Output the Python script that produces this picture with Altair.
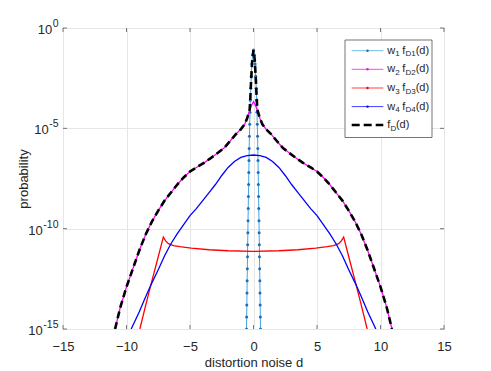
import altair as alt
import pandas as pd
import numpy as np

# ---------------- data ----------------
x_ticks = [-15, -10, -5, 0, 5, 10, 15]
y_ticks = [1e-15, 1e-10, 1e-5, 1]
y_tick_base = "10"
y_tick_exps = ["-15", "-10", "-5", "0"]

# w1 fD1(d): narrow spike (exponents of 10)
w1_d = [-0.55, -0.54, -0.525, -0.51, -0.5, -0.485, -0.47, -0.46, -0.445, -0.43,
        -0.415, -0.4, -0.385, -0.37, -0.355, -0.34, -0.32, -0.3, -0.275, -0.25,
        -0.215, -0.175, -0.13, -0.07, 0.0,
        0.07, 0.13, 0.175, 0.215, 0.25, 0.275, 0.3, 0.32, 0.34, 0.355,
        0.37, 0.385, 0.4, 0.415, 0.43, 0.445, 0.46, 0.47, 0.485, 0.5,
        0.51, 0.525, 0.54, 0.55]
w1_exp = [-15.0, -14.4, -13.8, -13.2, -12.6, -12.0, -11.4, -10.8, -10.2, -9.6,
          -9.0, -8.4, -7.8, -7.2, -6.6, -6.0, -5.4, -4.8, -4.2, -3.6,
          -3.0, -2.4, -1.8, -1.35, -1.1,
          -1.35, -1.8, -2.4, -3.0, -3.6, -4.2, -4.8, -5.4, -6.0, -6.6,
          -7.2, -7.8, -8.4, -9.0, -9.6, -10.2, -10.8, -11.4, -12.0, -12.6,
          -13.2, -13.8, -14.4, -15.0]

# w2 fD2(d)
w2_d = [-10.9, -10.5, -10.0, -9.5, -9.0, -8.5, -8.0, -7.5, -7.0, -6.5, -6.0, -5.5,
        -5.0, -4.5, -3.9, -3.4, -2.8, -2.3, -1.9, -1.4, -1.0, -0.7, -0.5, -0.3,
        -0.15, 0.0,
        0.15, 0.3, 0.5, 0.7, 1.0, 1.4, 1.9, 2.3, 2.8, 3.4, 3.9, 4.5, 5.0,
        5.5, 6.0, 6.5, 7.0, 7.5, 8.0, 8.5, 9.0, 9.5, 10.0, 10.5, 10.9]
w2_exp = [-15.0, -13.95, -12.9, -12.0, -11.1, -10.3, -9.65, -9.1, -8.6, -8.2, -7.8, -7.45,
          -7.15, -6.95, -6.72, -6.5, -6.22, -5.97, -5.68, -5.3, -5.05, -4.8, -4.5, -4.1,
          -3.85, -3.67,
          -3.85, -4.1, -4.5, -4.8, -5.05, -5.3, -5.68, -5.97, -6.22, -6.5, -6.72, -6.95, -7.15,
          -7.45, -7.8, -8.2, -8.6, -9.1, -9.65, -10.3, -11.1, -12.0, -12.9, -13.95, -15.0]

# w3 fD3(d)
w3_d = [-8.95, -8.5, -8.0, -7.5, -7.1, -6.9, -6.7, -6.3, -5.8, -4.9, -3.5, -2.0, 0.0,
        2.0, 3.5, 4.9, 5.8, 6.3, 6.7, 6.9, 7.1, 7.5, 8.0, 8.5, 8.95]
w3_exp = [-15.0, -13.85, -12.6, -11.4, -10.42, -10.62, -10.75, -10.85, -10.9, -10.97, -11.05, -11.1, -11.13,
          -11.1, -11.05, -10.97, -10.9, -10.85, -10.75, -10.62, -10.42, -11.4, -12.6, -13.85, -15.0]

# w4 fD4(d)
w4_d = [-9.63, -9.0, -8.5, -8.0, -7.5, -7.0, -6.5, -6.0, -5.5, -5.0, -4.5, -4.0, -3.5,
        -3.0, -2.5, -2.0, -1.5, -1.0, -0.5, 0.0,
        0.5, 1.0, 1.5, 2.0, 2.5, 3.0, 3.5, 4.0, 4.5, 5.0, 5.5, 6.0, 6.5, 7.0,
        7.5, 8.0, 8.5, 9.0, 9.63]
w4_exp = [-15.0, -14.15, -13.4, -12.7, -12.05, -11.35, -10.75, -10.25, -9.8, -9.35, -9.0, -8.6, -8.2,
          -7.8, -7.35, -6.95, -6.65, -6.45, -6.36, -6.33,
          -6.36, -6.45, -6.65, -6.95, -7.35, -7.8, -8.2, -8.6, -9.0, -9.35, -9.8, -10.25, -10.75, -11.35,
          -12.05, -12.7, -13.4, -14.15, -15.0]

# fD(d) total
fd_d = [-10.9, -10.5, -10.0, -9.5, -9.0, -8.5, -8.0, -7.5, -7.0, -6.5, -6.0, -5.5,
        -5.0, -4.5, -3.9, -3.4, -2.8, -2.3, -1.9, -1.4, -1.0, -0.7, -0.5, -0.3,
        -0.25, -0.2, -0.1, 0.0,
        0.1, 0.2, 0.25, 0.3, 0.5, 0.7, 1.0, 1.4, 1.9, 2.3, 2.8, 3.4, 3.9, 4.5, 5.0,
        5.5, 6.0, 6.5, 7.0, 7.5, 8.0, 8.5, 9.0, 9.5, 10.0, 10.5, 10.9]
fd_exp = [-15.0, -13.95, -12.9, -12.0, -11.1, -10.3, -9.65, -9.1, -8.6, -8.2, -7.8, -7.45,
          -7.15, -6.95, -6.72, -6.5, -6.22, -5.97, -5.68, -5.3, -5.05, -4.8, -4.5, -4.05,
          -3.5, -2.75, -1.6, -1.1,
          -1.6, -2.75, -3.5, -4.05, -4.5, -4.8, -5.05, -5.3, -5.68, -5.97, -6.22, -6.5, -6.72, -6.95, -7.15,
          -7.45, -7.8, -8.2, -8.6, -9.1, -9.65, -10.3, -11.1, -12.0, -12.9, -13.95, -15.0]

# ---------------- chart ----------------
W, H = 381, 301
FONT = "Liberation Sans"
TXT = "#262626"


def frame(d, e):
    return pd.DataFrame({"d": d, "p": np.power(10.0, np.array(e, dtype=float))})


xscale = alt.Scale(domain=[-15, 15], nice=False, zero=False)
yscale = alt.Scale(type="log", domain=[1e-15, 1], nice=False)

X_TITLE = "distortion noise d"
Y_TITLE = "probability"

xaxis = alt.Axis(values=x_ticks, grid=True, labelFlush=False, labelOverlap=False,
                 labelPadding=11, titleBaseline="alphabetic", titleY=37)
yaxis = alt.Axis(values=y_ticks, grid=True, labels=False,
                 titleBaseline="alphabetic", titleX=-36)
xenc = alt.X("d:Q", scale=xscale, title=X_TITLE, axis=xaxis)
yenc = alt.Y("p:Q", scale=yscale, title=Y_TITLE, axis=yaxis)

base_kw = dict(clip=True, interpolate="linear")

l1 = alt.Chart(frame(w1_d, w1_exp)).mark_line(color="#4aa3df", strokeWidth=1, **base_kw).encode(x=xenc, y=yenc)
p1 = alt.Chart(frame(w1_d, w1_exp)).mark_circle(color="#1a6fbd", size=9, opacity=1, clip=True).encode(x=xenc, y=yenc)
l2 = alt.Chart(frame(w2_d, w2_exp)).mark_line(color="#ff00ff", strokeWidth=1.3, **base_kw).encode(x=xenc, y=yenc)
l3 = alt.Chart(frame(w3_d, w3_exp)).mark_line(color="#ff0000", strokeWidth=1.3, **base_kw).encode(x=xenc, y=yenc)
l4 = alt.Chart(frame(w4_d, w4_exp)).mark_line(color="#0000ff", strokeWidth=1.3, **base_kw).encode(x=xenc, y=yenc)
l5 = alt.Chart(frame(fd_d, fd_exp)).mark_line(color="#000000", strokeWidth=2.6, strokeDash=[7, 4],
                                              **base_kw).encode(x=xenc, y=yenc)

# inward ticks (box style)
xt = pd.DataFrame({"d": x_ticks})
yt = pd.DataFrame({"p": y_ticks})
tick_col = "#555555"
tb = alt.Chart(xt).mark_rule(color=tick_col, strokeWidth=0.8).encode(x=xenc, y=alt.value(H), y2=alt.value(H - 4))
tt = alt.Chart(xt).mark_rule(color=tick_col, strokeWidth=0.8).encode(x=xenc, y=alt.value(0), y2=alt.value(4))
tl = alt.Chart(yt).mark_rule(color=tick_col, strokeWidth=0.8).encode(y=yenc, x=alt.value(0), x2=alt.value(4))
tr = alt.Chart(yt).mark_rule(color=tick_col, strokeWidth=0.8).encode(y=yenc, x=alt.value(W), x2=alt.value(W - 4))

# y tick labels "10" with superscript exponents
BASE_FS, EXP_FS = 13, 10.5
char_w = {"-": 0.333, "0": 0.556, "1": 0.556, "5": 0.556}
ylab_layers = []
for val, ex in zip(y_ticks, y_tick_exps):
    ew = sum(char_w[c] for c in ex) * EXP_FS
    xe = -5 - ew
    dv = pd.DataFrame({"p": [val]})
    ylab_layers.append(alt.Chart(dv).mark_text(text=y_tick_base, align="right", baseline="middle",
                                               font=FONT, fontSize=BASE_FS, color=TXT, dy=2).encode(
        y=yenc, x=alt.value(xe)))
    ylab_layers.append(alt.Chart(dv).mark_text(text=ex, align="left", baseline="middle",
                                               font=FONT, fontSize=EXP_FS, color=TXT, dy=-4).encode(
        y=yenc, x=alt.value(xe + 0.5)))

# ---------------- legend (manual, MATLAB style) ----------------
one = pd.DataFrame({"a": [0]})
leg_layers = []
leg_layers.append(
    alt.Chart(one).mark_rect(fill="white", stroke="#3a3a3a", strokeWidth=0.7).encode(
        x=alt.value(282), x2=alt.value(369), y=alt.value(12), y2=alt.value(109.5))
)
rows_y = [22.7, 41.3, 60.0, 78.6, 97.0]
leg_colors = ["#4aa3df", "#ff00ff", "#ff0000", "#0000ff"]
dot_colors = ["#1a6fbd", "#ff00ff", "#ff0000", "#0000ff"]
LX0, LX1 = 288.7, 320.3
TX = 324.3
for i, (yy, col) in enumerate(zip(rows_y[:4], leg_colors)):
    leg_layers.append(alt.Chart(one).mark_rule(color=col, strokeWidth=1, opacity=0.75).encode(
        x=alt.value(LX0), x2=alt.value(LX1), y=alt.value(yy)))
    leg_layers.append(alt.Chart(one).mark_circle(color=dot_colors[i], size=6, opacity=1).encode(
        x=alt.value((LX0 + LX1) / 2), y=alt.value(yy)))
    k = str(i + 1)
    parts = [("w", TX, 11, 0), (k, TX + 7.9, 8, 3.5), ("f", TX + 15.0, 11, 0),
             ("D" + k, TX + 18.1, 8, 3.5), ("(d)", TX + 28.4, 11, 0)]
    for txt, xx, fs, dy in parts:
        leg_layers.append(alt.Chart(one).mark_text(text=txt, align="left", baseline="middle",
                                                   font=FONT, fontSize=fs, color=TXT).encode(
            x=alt.value(xx), y=alt.value(yy + dy)))
yy = rows_y[4]
leg_layers.append(alt.Chart(one).mark_rule(color="black", strokeWidth=2.6, strokeDash=[8, 4]).encode(
    x=alt.value(LX0), x2=alt.value(LX1), y=alt.value(yy)))
for txt, xx, fs, dy in [("f", TX, 11, 0), ("D", TX + 3.1, 8, 3.5), ("(d)", TX + 8.6, 11, 0)]:
    leg_layers.append(alt.Chart(one).mark_text(text=txt, align="left", baseline="middle",
                                               font=FONT, fontSize=fs, color=TXT).encode(
        x=alt.value(xx), y=alt.value(yy + dy)))

chart = alt.layer(l1, p1, l2, l3, l4, l5, tb, tt, tl, tr, *ylab_layers, *leg_layers).properties(
    width=W, height=H,
    autosize=alt.AutoSizeParams(type="none"),
    padding={"left": 55, "top": 20, "right": 39, "bottom": 42},
    background="white",
).configure_view(
    stroke="#777777", strokeWidth=1
).configure_axis(
    labelFont=FONT, titleFont=FONT, labelFontSize=13, titleFontSize=13,
    labelColor=TXT, titleColor=TXT, titleFontWeight="normal",
    gridColor="#e6e6e6", gridWidth=1, tickSize=0, domain=False,
)

chart.save("out.html", embed_options={"renderer": "svg", "actions": False})
